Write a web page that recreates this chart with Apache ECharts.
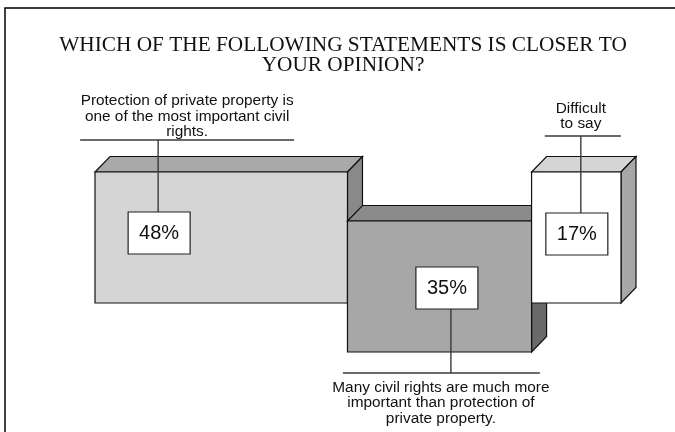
<!DOCTYPE html>
<html>
<head>
<meta charset="utf-8">
<style>
  html, body { margin: 0; padding: 0; background: #ffffff; }
  #chart { width: 675px; height: 432px; }
</style>
<script src="https://cdn.jsdelivr.net/npm/echarts@6.0.0/dist/echarts.min.js"></script>
</head>
<body>
<div id="chart"></div>
<script>
// Survey answers: each block's width is its share of respondents.
const categories = [
  'Protection of private property is\none of the most important civil\nrights.',
  'Many civil rights are much more\nimportant than protection of\nprivate property.',
  'Difficult\nto say'
];
const shares = [48, 35, 17];
const valueLabels = ['48%', '35%', '17%'];

// Block styling (front, top and side faces)
const faceColors = [
  { front: '#d5d5d5', top: '#a9a9a9', side: '#898989' },
  { front: '#a7a7a7', top: '#8b8b8b', side: '#6a6a6a' },
  { front: '#ffffff', top: '#d5d5d5', side: '#a7a7a7' }
];
const DEPTH_X = 15;
const DEPTH_Y = 15.5;
const MIDDLE_DROP = 49;   // every second block sits lower
const BOX_W = 62, BOX_H = 42;

// Callout placement relative to each block
const callouts = [
  { boxFrac: 0.254, boxDy: 40, side: 'top',    leaderDx: -1, lineGap: 32, textDx: 29,  lineL: 107, lineR: 107, textOff: 47 },
  { boxFrac: 0.540, boxDy: 46, side: 'bottom', leaderDx: 4,  lineGap: 21, textDx: -10, lineL: 98,  lineR: 99,  textOff: 6.5 },
  { boxFrac: 0.506, boxDy: 41, side: 'top',    leaderDx: 4,  lineGap: 36, textDx: 0,   lineL: 36,  lineR: 40,  textOff: 35.5 }
];

// Cumulative start of each block along the 0-100 axis
const starts = [];
shares.reduce((acc, v) => { starts.push(acc); return acc + v; }, 0);
const seriesData = shares.map((v, i) => [starts[i], v]);

const LINE_COLOR = '#3a3a3a';
const TEXT_FONT = '15.4px "Liberation Sans", Arial, sans-serif';

function renderItem(params, api) {
  const i = params.dataIndex;
  const start = api.value(0);
  const share = api.value(1);
  const tl = api.coord([start, 1]);
  const br = api.coord([start + share, 0]);
  const drop = (i % 2 === 1) ? MIDDLE_DROP : 0;
  const x0 = tl[0];
  const y0 = tl[1] + drop;
  const w = br[0] - tl[0];
  const h = br[1] - tl[1];
  const c = faceColors[i];
  const outline = { stroke: '#111111', lineWidth: 1.2 };

  const children = [
    {
      type: 'polygon',
      shape: { points: [[x0, y0], [x0 + DEPTH_X, y0 - DEPTH_Y], [x0 + w + DEPTH_X, y0 - DEPTH_Y], [x0 + w, y0]] },
      style: Object.assign({ fill: c.top }, outline)
    },
    {
      type: 'polygon',
      shape: { points: [[x0 + w, y0], [x0 + w + DEPTH_X, y0 - DEPTH_Y], [x0 + w + DEPTH_X, y0 + h - DEPTH_Y], [x0 + w, y0 + h]] },
      style: Object.assign({ fill: c.side }, outline)
    },
    {
      type: 'rect',
      shape: { x: x0, y: y0, width: w, height: h },
      style: Object.assign({ fill: c.front }, outline)
    }
  ];

  const co = callouts[i];
  const boxCx = x0 + co.boxFrac * w;
  const boxTop = y0 + co.boxDy;
  const leaderX = boxCx + co.leaderDx;
  const lineY = co.side === 'top' ? y0 - co.lineGap : y0 + h + co.lineGap;
  const textCx = leaderX + co.textDx;

  // leader from the value box to the callout rule
  children.push({
    type: 'line',
    shape: co.side === 'top'
      ? { x1: leaderX, y1: lineY, x2: leaderX, y2: boxTop }
      : { x1: leaderX, y1: boxTop + BOX_H, x2: leaderX, y2: lineY },
    style: { stroke: LINE_COLOR, lineWidth: 1.4 }
  });
  children.push({
    type: 'line',
    shape: { x1: textCx - co.lineL, y1: lineY, x2: textCx + co.lineR, y2: lineY },
    style: { stroke: LINE_COLOR, lineWidth: 1.4 }
  });
  // value box
  children.push({
    type: 'rect',
    shape: { x: boxCx - BOX_W / 2, y: boxTop, width: BOX_W, height: BOX_H },
    style: { fill: '#ffffff', stroke: '#222222', lineWidth: 1.2 }
  });
  children.push({
    type: 'text',
    style: {
      text: valueLabels[i],
      x: boxCx, y: boxTop + BOX_H / 2 + 0.5,
      align: 'center', verticalAlign: 'middle',
      font: '20px "Liberation Sans", Arial, sans-serif',
      fill: '#111111'
    }
  });
  // category text
  children.push({
    type: 'text',
    style: {
      text: categories[i],
      x: textCx,
      y: co.side === 'top' ? lineY - co.textOff : lineY + co.textOff,
      align: 'center', verticalAlign: 'top',
      font: TEXT_FONT,
      lineHeight: 15.5,
      fill: '#111111'
    }
  });

  return { type: 'group', children: children };
}

const chart = echarts.init(document.getElementById('chart'), null, { renderer: 'canvas' });
chart.setOption({
  backgroundColor: '#ffffff',
  animation: false,
  title: {
    text: 'WHICH OF THE FOLLOWING STATEMENTS IS CLOSER TO\nYOUR OPINION?',
    left: 343,
    top: 36,
    padding: 0,
    textAlign: 'center',
    textStyle: {
      fontFamily: '"Liberation Serif", "Times New Roman", serif',
      fontWeight: 'normal',
      fontSize: 21.3,
      lineHeight: 19.5,
      color: '#111111'
    }
  },
  grid: { left: 95, right: 54, top: 172, bottom: 129 },
  xAxis: { type: 'value', min: 0, max: 100, show: false },
  yAxis: { type: 'value', min: 0, max: 1, show: false },
  graphic: [
    { type: 'polyline', shape: { points: [[5, 432], [5, 8], [675, 8]] }, style: { stroke: '#000000', lineWidth: 1.5, fill: null } }
  ],
  series: [{
    type: 'custom',
    renderItem: renderItem,
    data: seriesData,
    clip: false
  }]
});
</script>
</body>
</html>
